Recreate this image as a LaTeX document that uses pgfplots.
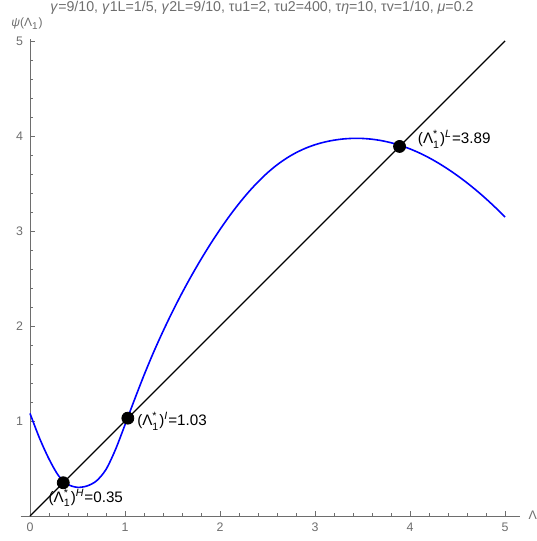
\documentclass[border=0pt]{standalone}
\usepackage{pgfplots}
\pgfplotsset{compat=1.18}
\usepackage{fontspec}
\setmainfont{Liberation Sans}
\usetikzlibrary{calc}

\definecolor{axgray}{RGB}{110,110,110}
\definecolor{mblue}{RGB}{0,0,255}
\newcommand\sm{\fontsize{5.3}{6}\selectfont}
% label like (Lambda_1^*)^H=0.35
\newcommand\lab[2]{(Λ$^{\mbox{\sm *}}_{\mbox{\sm 1}}$)$^{\mbox{\sm\itshape #1}}$=#2}

\begin{document}
\begin{tikzpicture}
\begin{axis}[
    x=47.5pt, y=47.5pt,
    xmin=-0.1, xmax=5.16,
    ymin=0, ymax=5.02,
    axis lines=middle,
    axis line style={axgray, -},
    clip=false,
    hide obscured x ticks=false,
    hide obscured y ticks=false,
    xtick={0,1,2,3,4,5},
    ytick={1,2,3,4,5},
    minor tick num=4,
    tick align=inside,
    major tick length=2.5pt,
    minor tick length=1.5pt,
    tick style={axgray, line width=0.4pt},
    ticklabel style={font=\fontsize{6.2}{7}\selectfont, text=axgray},
    /pgf/number format/assume math mode=true,
]
\coordinate (O) at (axis cs:0,0);

% 45 degree line
\addplot[black, line width=0.7pt] coordinates {(0,0) (5,5)};

% psi(Lambda_1)
\addplot[mblue, line width=0.8pt, smooth] coordinates {
  (0,1.08) (0.1,0.82) (0.2,0.60) (0.3,0.425) (0.4,0.332) (0.5,0.302)
  (0.6,0.316) (0.7,0.37) (0.8,0.49) (0.9,0.70) (1.0,0.96) (1.1,1.225)
  (1.2,1.482) (1.3,1.722) (1.4,1.944) (1.5,2.152) (1.6,2.347) (1.7,2.530)
  (1.8,2.702) (1.9,2.864) (2.0,3.016) (2.1,3.158) (2.2,3.289) (2.3,3.409)
  (2.4,3.517) (2.5,3.613) (2.6,3.696) (2.7,3.766) (2.8,3.824) (2.9,3.871)
  (3.0,3.908) (3.1,3.936) (3.2,3.956) (3.3,3.969) (3.4,3.975) (3.5,3.974)
  (3.6,3.966) (3.7,3.951) (3.8,3.929) (3.9,3.90) (4.0,3.864) (4.1,3.821)
  (4.2,3.771) (4.3,3.714) (4.4,3.651) (4.5,3.582) (4.6,3.507) (4.7,3.426)
  (4.8,3.339) (4.9,3.246) (5.0,3.147)
};

% fixed points
\addplot[only marks, mark=*, mark size=3pt, black] coordinates {
  (0.35,0.35) (1.03,1.03) (3.89,3.89)
};

\node[anchor=north west, inner sep=0pt, font=\fontsize{7.6}{9}\selectfont]
  at ($(axis cs:0.35,0.35)+(-7.5pt,-3pt)$) {\lab{H}{0.35}};
\node[anchor=west, inner sep=0pt, font=\fontsize{7.6}{9}\selectfont]
  at ($(axis cs:1.03,1.03)+(4.5pt,-1.5pt)$) {\lab{I}{1.03}};
\node[anchor=west, inner sep=0pt, font=\fontsize{7.6}{9}\selectfont]
  at ($(axis cs:3.89,3.89)+(9pt,3.5pt)$) {\lab{L}{3.89}};

% axis labels and title
\node[anchor=south, inner sep=0pt, font=\fontsize{6}{7}\selectfont, text=axgray]
  at ($(axis cs:0,5.02)+(-1.5pt,4.5pt)$) {\textit{ψ}(Λ\textsubscript{1})};
\node[anchor=west, inner sep=0pt, font=\fontsize{6.2}{7}\selectfont, text=axgray]
  at ($(axis cs:5.16,0)+(4pt,0pt)$) {Λ\textsubscript{1}};
\node[anchor=north, inner sep=0pt, font=\fontsize{7.1}{8}\selectfont, text=axgray]
  at ($(O)+(116pt,257.5pt)$) {\textit{γ}=9/10, \textit{γ}1L=1/5, \textit{γ}2L=9/10, τu1=2, τu2=400, τ\textit{η}=10, τv=1/10, \textit{μ}=0.2};
\end{axis}
\pgfresetboundingbox
\path[use as bounding box] ($(O)+(-15pt,-12.5pt)$) rectangle ($(O)+(253pt,258pt)$);
\end{tikzpicture}
\end{document}
